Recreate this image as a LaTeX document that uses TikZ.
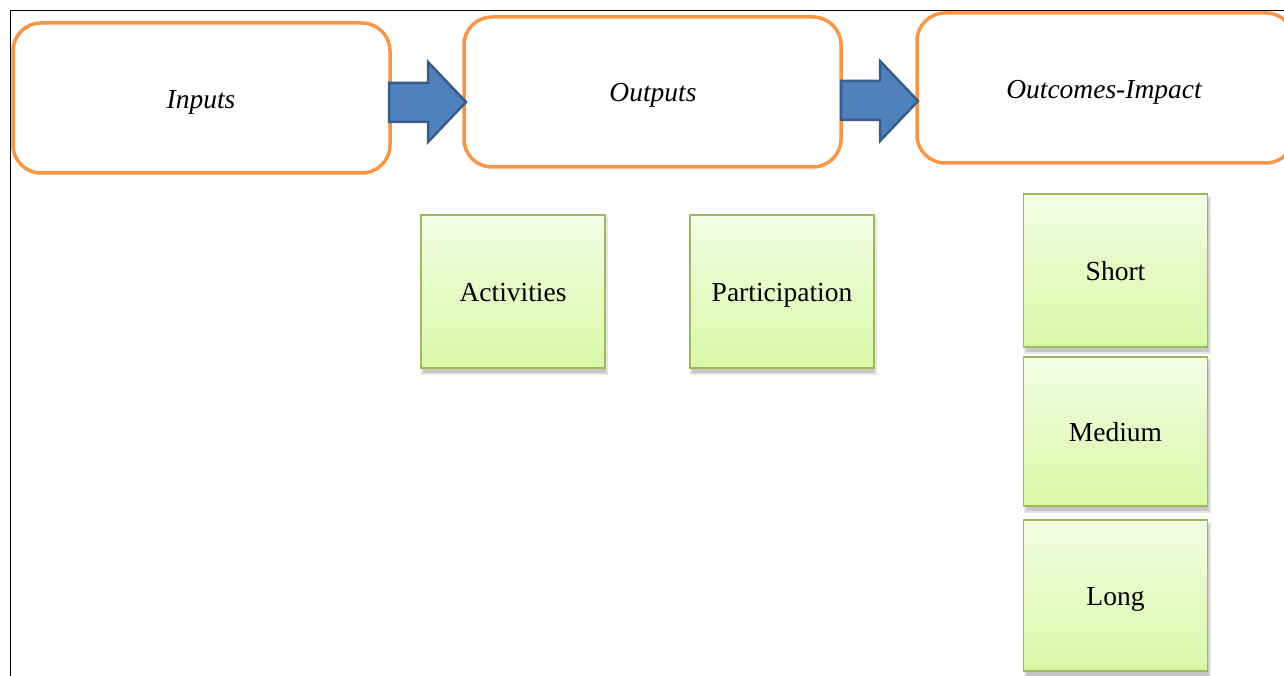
\documentclass[tikz,border=0pt]{standalone}
\usepackage{fontspec}
\setmainfont{Liberation Serif}
\definecolor{orng}{HTML}{F79646}
\definecolor{arfill}{HTML}{4F81BD}
\definecolor{ardraw}{HTML}{385D8A}
\definecolor{gtop}{HTML}{F4FDE6}
\definecolor{gbot}{HTML}{D8F8A6}
\definecolor{gline}{HTML}{9BBB59}
\begin{document}
\begin{tikzpicture}[x=1pt,y=-1pt,
  stage/.style={draw=orng,line width=3.5pt,fill=white,rounded corners=28pt,
    minimum width=377pt,minimum height=150pt,inner sep=0pt},
  stagetxt/.style={font=\fontsize{27.5}{32}\selectfont\itshape,text height=20pt,text depth=0pt,inner sep=0pt},
  gbox/.style={draw=gline,line width=1.2pt,top color=gtop,bottom color=gbot,
    minimum width=184pt,inner sep=0pt,font=\fontsize{27.5}{32}\selectfont,
    text height=20pt,text depth=0pt},
  barrow/.style={fill=arfill,draw=ardraw,line width=2.5pt,line join=miter}]
\useasboundingbox (0,0) rectangle (1284,676);
\fill[white] (0,0) rectangle (1284,676);
\draw[black,line width=0.8pt] (1284,10) -- (10,10) -- (10,676);

% stages
\node[stage] (in) at (201.5,98) {};
\node[stagetxt] (intxt) at (201,99) {Inputs};
\node[stage] (out) at (652.5,92) {};
\node[stagetxt] (outtxt) at (653,92) {Outputs};
\node[stage] (oc) at (1105.5,88) {};
\node[stagetxt] (octxt) at (1104,89) {Outcomes-Impact};

% block arrows
\draw[barrow] (389,83) -- (428,83) -- (428,62) -- (466,102) -- (428,142) -- (428,122) -- (389,122) -- cycle;
\draw[barrow] (841,81) -- (880,81) -- (880,61) -- (918,101) -- (880,141) -- (880,120) -- (841,120) -- cycle;

% green boxes with shadows
\foreach \cx/\cy/\h in {513/291.5/153, 782/291.5/153, 1115.5/270.5/153, 1115.5/431.5/149, 1115.5/595.5/151}{
  \fill[black!10] (\cx-92,\cy-\h/2+2) rectangle (\cx+95,\cy+\h/2+7);
  \fill[black!22] (\cx-90,\cy-\h/2+4) rectangle (\cx+93,\cy+\h/2+4.5);
}
\node[gbox,minimum height=153pt] (act) at (513,291.5) {Activities};
\node[gbox,minimum height=153pt] (par) at (782,291.5) {Participation};
\node[gbox,minimum height=153pt] (sh) at (1115.5,270.5) {Short};
\node[gbox,minimum height=149pt] (me) at (1115.5,431.5) {Medium};
\node[gbox,minimum height=151pt] (lo) at (1115.5,595.5) {Long};
\end{tikzpicture}
\end{document}
